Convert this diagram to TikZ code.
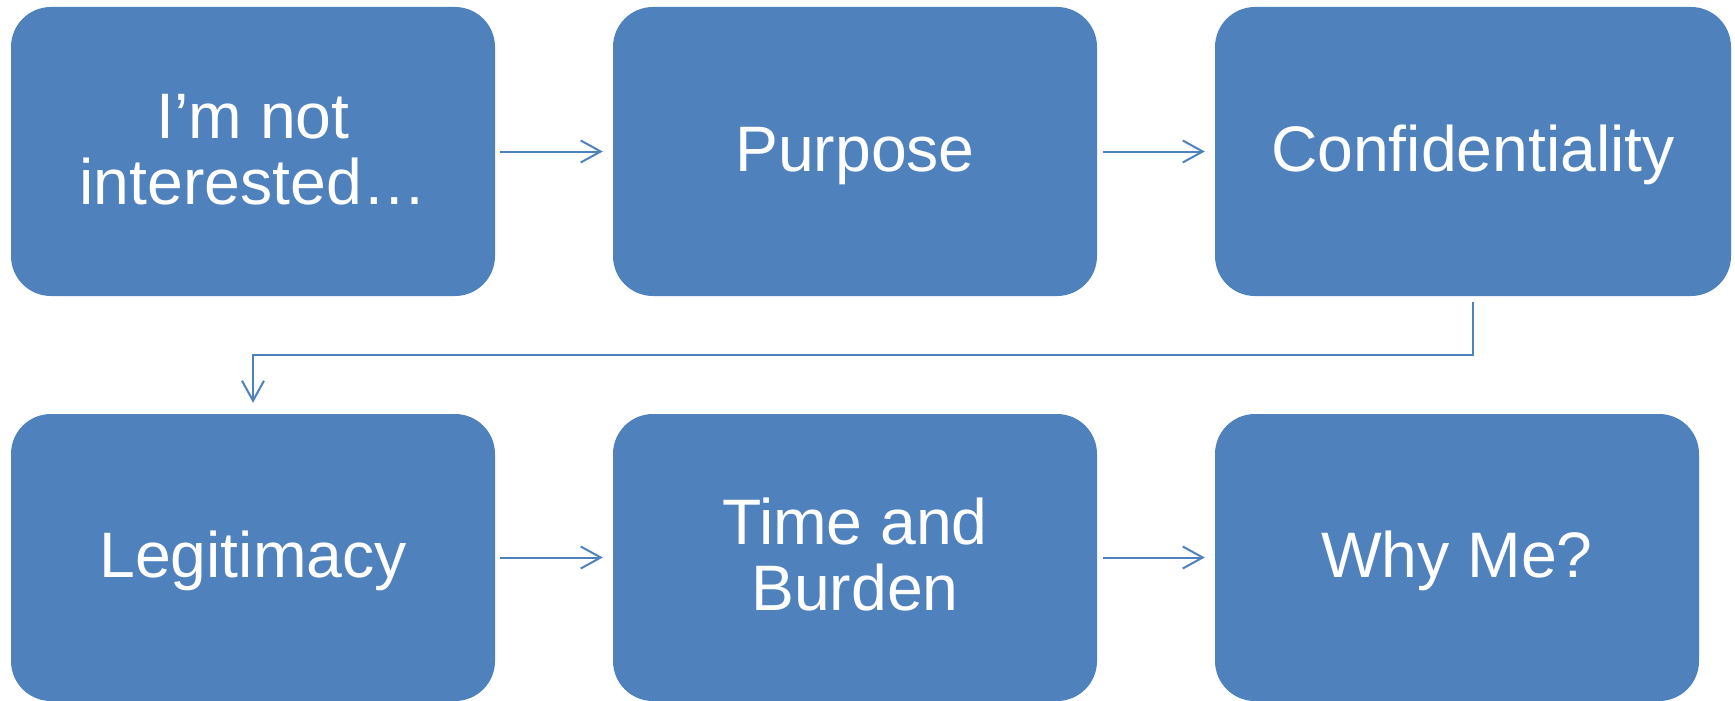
\documentclass[tikz,border=0pt]{standalone}
\usepackage{fontspec}
\setmainfont{Liberation Sans}
\usetikzlibrary{arrows.meta}
\definecolor{boxblue}{RGB}{79,129,189}
% fixed line strut so every line has the same height and depth
\newcommand{\linestrut}{\rule[-12.85pt]{0pt}{65.7pt}}
\tikzset{
  stepbox/.style={fill=boxblue, draw=none, rounded corners=40pt, inner sep=0pt,
    text=white, align=center, minimum width=484pt,
    font=\fontsize{64.3pt}{65.7pt}\selectfont},
  conn/.style={draw=boxblue, line width=2pt,
    -{Straight Barb[length=20pt,width=22pt,line width=2pt]}}
}
\begin{document}
\begin{tikzpicture}[x=1pt,y=-1pt]
\useasboundingbox (0,0) rectangle (1735,701);
% first row
\node[stepbox, minimum height=289pt] (b1) at (253,151.5) {\linestrut I’m not\\\linestrut interested…};
\node[stepbox, minimum height=289pt] (b2) at (855,151.5) {\linestrut Purpose};
\node[stepbox, minimum width=516pt, minimum height=289pt] (b3) at (1473,151.5) {\linestrut Confidentiality};
% second row
\node[stepbox, minimum height=287pt] (b4) at (253,557.5) {\linestrut Legitimacy};
\node[stepbox, minimum height=287pt] (b5) at (855,557.5) {\linestrut Time and\\\linestrut Burden};
\node[stepbox, minimum height=287pt] (b6) at (1457,557.5) {\linestrut Why Me?};
% connectors
\draw[conn] ([xshift=5pt]b1.east) -- ([xshift=-10pt]b2.west);
\draw[conn] ([xshift=6pt]b2.east) -- ([xshift=-10pt]b3.west);
\draw[conn] ([yshift=-6pt]b3.south) |- ([yshift=59pt]b4.north) -- ([yshift=11pt]b4.north);
\draw[conn] ([xshift=5pt]b4.east) -- ([xshift=-10pt]b5.west);
\draw[conn] ([xshift=6pt]b5.east) -- ([xshift=-10pt]b6.west);
\end{tikzpicture}
\end{document}
